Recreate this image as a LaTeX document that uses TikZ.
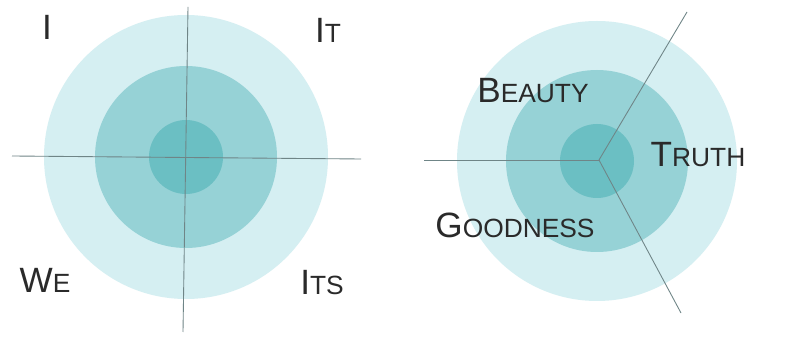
\documentclass[tikz,border=0pt]{standalone}
\usepackage{fontspec}
\setmainfont{Liberation Sans}
\usepackage{tikz}
\usetikzlibrary{positioning}

\definecolor{ringout}{HTML}{D5EFF2}
\definecolor{ringmid}{HTML}{96D2D6}
\definecolor{ringin}{HTML}{6BBFC3}
\definecolor{axisgray}{HTML}{6F8587}
\definecolor{labelgray}{HTML}{2A2A2A}

% lettere maiuscole finte in maiuscoletto
\newcommand{\fakesc}[2]{{\fontsize{20}{20}\selectfont #1}{\fontsize{15}{15}\selectfont #2}}

\begin{document}
\begin{tikzpicture}[x=0.02cm, y=0.02cm,
    axis/.style={draw=axisgray, line width=0.5pt},
    quadlabel/.style={text=labelgray, inner sep=0pt}]
    \useasboundingbox[fill=white] (0,0) rectangle (788,358);

    % cerchi concentrici a sinistra
    \fill[ringout] (186,201) circle[radius=142];
    \fill[ringmid] (186,201) circle[radius=91];
    \fill[ringin] (186,201) circle[radius=37];
    \coordinate (lw) at (12,202);
    \coordinate (le) at (361,199);
    \coordinate (ln) at (188,351);
    \coordinate (ls) at (183,26);
    \draw[axis] (lw) -- (le);
    \draw[axis] (ln) -- (ls);
    \node[quadlabel] (i) at (47,331) {\fakesc{I}{}};
    \node[quadlabel] (it) at (328,328) {\fakesc{I}{T}};
    \node[quadlabel] (we) at (45,78) {\fakesc{W}{E}};
    \node[quadlabel] (its) at (322,75) {\fakesc{I}{TS}};

    % cerchi concentrici a destra
    \begin{scope}[shift={(411,0)}]
        \fill[ringout] (186,197) circle[radius=140];
        \fill[ringmid] (186,197) circle[radius=91];
        \fill[ringin] (186,197) circle[radius=37];
        \coordinate (hub) at (188,198);
        \coordinate (rw) at (13,198);
        \coordinate (rn) at (276,346);
        \coordinate (rs) at (270,45);
        \draw[axis] (rw) -- (hub);
        \draw[axis] (hub) -- (rn);
        \draw[axis] (hub) -- (rs);
        \node[quadlabel] (beauty) at (122,267) {\fakesc{B}{EAUTY}};
        \node[quadlabel] (truth) at (287,203) {\fakesc{T}{RUTH}};
        \node[quadlabel] (goodness) at (104,133) {\fakesc{G}{OODNESS}};
    \end{scope}
\end{tikzpicture}
\end{document}
